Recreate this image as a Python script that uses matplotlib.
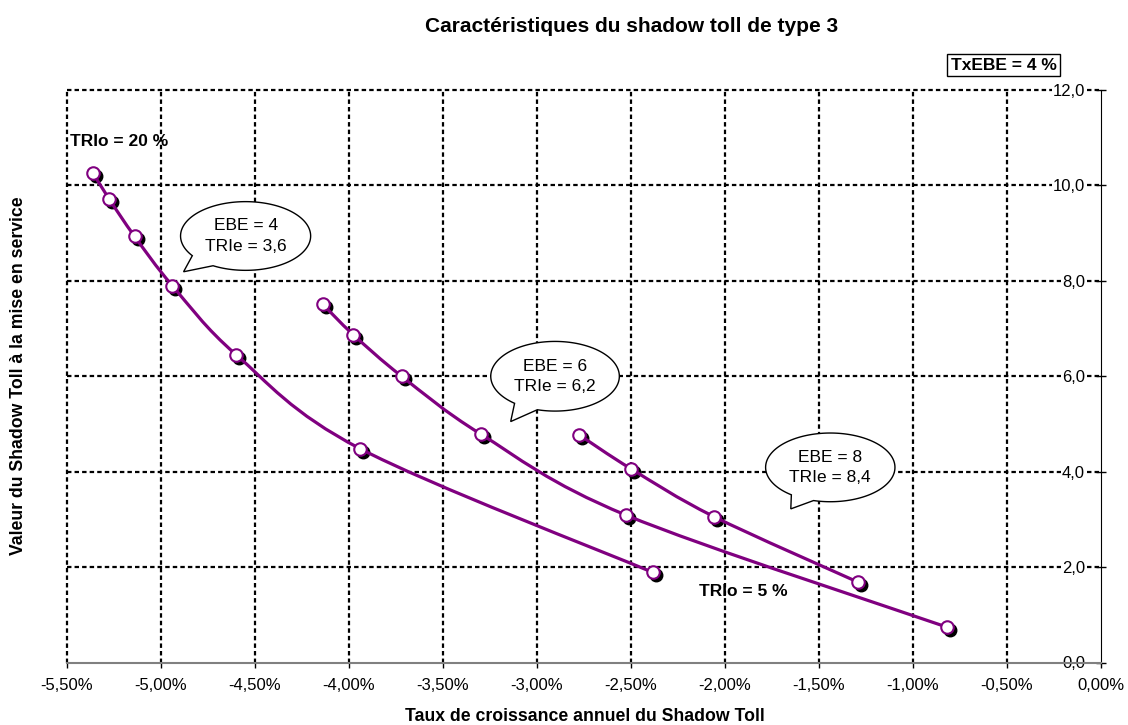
import numpy as np
import matplotlib
matplotlib.use("Agg")
import matplotlib.pyplot as plt
from matplotlib.path import Path
from matplotlib.patches import PathPatch, Polygon
from matplotlib.transforms import offset_copy
from matplotlib.ticker import FuncFormatter

plt.rcParams['font.family'] = ['Liberation Sans', 'DejaVu Sans']

# data (x in %, y = valeur du shadow toll)
x_ebe4 = [-5.36, -5.275, -5.14, -4.94, -4.60, -3.94, -2.385]
y_ebe4 = [10.25, 9.71, 8.93, 7.90, 6.45, 4.48, 1.89]
x_ebe6 = [-4.14, -3.977, -3.72, -3.30, -2.527, -0.818]
y_ebe6 = [7.51, 6.87, 6.00, 4.79, 3.09, 0.74]
x_ebe8 = [-2.775, -2.50, -2.06, -1.29]
y_ebe8 = [4.77, 4.06, 3.06, 1.68]

x_ticks = [-5.5, -5.0, -4.5, -4.0, -3.5, -3.0, -2.5, -2.0, -1.5, -1.0, -0.5, 0.0]
y_ticks = [0, 2, 4, 6, 8, 10, 12]

purple = '#800080'


def smooth_path(xs, ys):
    # catmull-rom -> bezier, like excel's smoothed lines
    p = np.column_stack([xs, ys])
    n = len(p)
    verts = [p[0]]
    codes = [Path.MOVETO]
    for i in range(n - 1):
        p0 = p[i - 1] if i > 0 else p[i]
        p3 = p[i + 2] if i + 2 < n else p[i + 1]
        c1 = p[i] + (p[i + 1] - p0) / 6
        c2 = p[i + 1] - (p3 - p[i]) / 6
        verts += [c1, c2, p[i + 1]]
        codes += [Path.CURVE4] * 3
    return Path(verts, codes)


def bubble(ax, cx, cy, a, b, t1, t2, tip, text):
    t = np.radians(np.linspace(t2, t1 + 360, 200))
    pts = np.column_stack([cx + a * np.cos(t), cy + b * np.sin(t)])
    pts = np.vstack([pts, tip])
    ax.add_patch(Polygon(pts, closed=True, facecolor='white', edgecolor='black',
                         lw=1.0, zorder=5, clip_on=False))
    ax.text(cx, cy, text, ha='center', va='center', fontsize=12.5, zorder=6,
            linespacing=1.45)


fig = plt.figure(figsize=(11.28, 7.25), dpi=100)
ax = fig.add_axes([67 / 1128, 62.5 / 725, 1034 / 1128, 572.5 / 725])

ax.set_xlim(-5.5, 0)
ax.set_ylim(0, 12)

# grid
for xv in x_ticks[:-1]:
    ax.axvline(xv, color='black', lw=1.6, ls=(0, (2, 1.4)), zorder=1, clip_on=False)
for yv in y_ticks[1:]:
    ax.axhline(yv, color='black', lw=1.6, ls=(0, (2, 1.4)), zorder=1, clip_on=False)

shadow = offset_copy(ax.transData, fig=fig, x=3, y=-3, units='dots')
for xs, ys in [(x_ebe4, y_ebe4), (x_ebe6, y_ebe6), (x_ebe8, y_ebe8)]:
    ax.plot(xs, ys, 'o', color='black', ms=9, transform=shadow, zorder=3, clip_on=False)
    ax.add_patch(PathPatch(smooth_path(xs, ys), facecolor='none', edgecolor=purple,
                           lw=2.3, zorder=3.5, capstyle='round'))
    ax.plot(xs, ys, 'o', mfc='white', mec=purple, mew=1.5, ms=9, ls='none',
            zorder=4, clip_on=False)

# axes
ax.spines['top'].set_visible(False)
ax.spines['right'].set_visible(False)
ax.spines['left'].set_position(('data', 0))
ax.spines['left'].set_color('black')
ax.spines['bottom'].set_color('#808080')
ax.spines['bottom'].set_linewidth(1.5)
ax.set_xticks(x_ticks)
ax.set_yticks(y_ticks)
ax.xaxis.set_major_formatter(FuncFormatter(lambda v, p: f"{v:.2f}%".replace('.', ',')))
ax.yaxis.set_major_formatter(FuncFormatter(lambda v, p: f"{v:.1f}".replace('.', ',')))
ax.tick_params(axis='x', direction='out', length=3.5, width=1, colors='black',
               labelsize=12, pad=8)
ax.tick_params(axis='y', direction='inout', length=7, width=1, labelsize=12, pad=8)
for lab in ax.get_yticklabels():
    lab.set_bbox(dict(facecolor='white', edgecolor='none', pad=0.5))

# callouts and labels
bubble(ax, -4.55, 8.94, 0.346, 0.72, 215, 240, (-4.88, 8.19), "EBE = 4\nTRIe = 3,6")
bubble(ax, -2.904, 6.0, 0.342, 0.73, 231, 254, (-3.14, 5.05), "EBE = 6\nTRIe = 6,2")
bubble(ax, -1.44, 4.09, 0.344, 0.72, 233, 255, (-1.65, 3.22), "EBE = 8\nTRIe = 8,4")

ax.text(-5.484, 10.93, "TRIo = 20 %", fontsize=12.5, fontweight='bold',
        ha='left', va='center', zorder=6)
ax.text(-2.138, 1.49, "TRIo = 5 %", fontsize=12.5, fontweight='bold',
        ha='left', va='center', zorder=6)

fig.text(1003.7 / 1128, 1 - 65.3 / 725, "TxEBE = 4 %", fontsize=12.5, fontweight='bold',
         ha='center', va='center',
         bbox=dict(facecolor='white', edgecolor='black', lw=1, boxstyle='square,pad=0.2'))

fig.text(632 / 1128, 1 - 32 / 725, "Caractéristiques du shadow toll de type 3",
         fontsize=15, fontweight='bold', ha='center', va='baseline')
fig.text(585 / 1128, 1 - 721 / 725, "Taux de croissance annuel du Shadow Toll",
         fontsize=12.7, fontweight='bold', ha='center', va='baseline')
fig.text(19 / 1128, 1 - 376 / 725, "Valeur du Shadow Toll à la mise en service",
         fontsize=12.7, fontweight='bold', ha='center', va='center', rotation=90)

fig.savefig("out.png", dpi=100)
